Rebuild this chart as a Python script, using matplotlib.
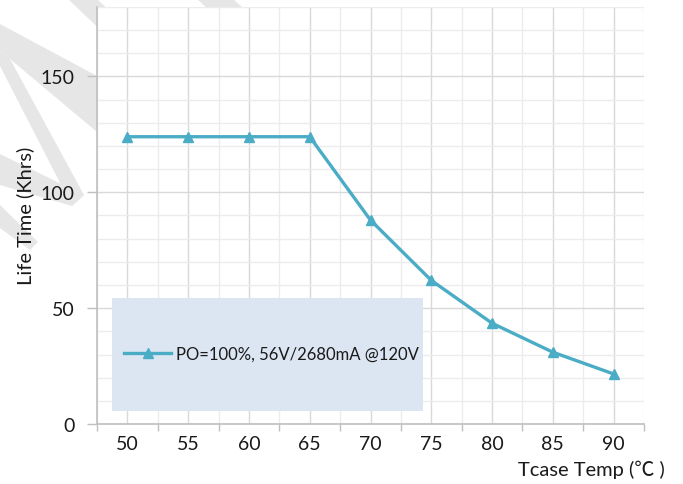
import numpy as np
import matplotlib
matplotlib.use("Agg")
import matplotlib.pyplot as plt
from matplotlib.patches import Polygon, Rectangle
from matplotlib.ticker import MultipleLocator, FixedLocator

# data
temps = [50, 55, 60, 65, 70, 75, 80, 85, 90]
life_khrs = [124, 124, 124, 124, 88, 62, 43.5, 31, 21.6]
series_label = "PO=100%, 56V/2680mA @120V"
y_ticks = [0, 50, 100, 150]

W, H = 683, 485
FONT = ["Lato", "Noto Sans CJK SC", "DejaVu Sans"]
plt.rcParams["font.family"] = FONT

line_color = "#4bacc6"
text_color = "#1a1a1a"

fig = plt.figure(figsize=(W / 100, H / 100), dpi=100)

def px(x, y):
    # pixel coords (top-left origin) -> figure fraction
    return (x / W, 1 - y / H)

# faint watermark stripes in the margins (behind the white plot area)
stripes = [
    [(0, 25), (97, 77), (97, 133), (10, 60), (0, 52)],
    [(0, 52), (10, 60), (84, 196), (72, 207), (0, 67)],
    [(0, 155), (84, 196), (72, 207), (0, 186)],
    [(0, 206), (38, 243), (30, 251), (0, 229)],
    [(68, 0), (97, 0), (140, 40), (110, 40)],
    [(197, 0), (233, 0), (262, 26), (226, 26)],
]
for s in stripes:
    fig.add_artist(Polygon([px(*p) for p in s], closed=True, transform=fig.transFigure,
                           facecolor="#e6e6e6", edgecolor="none", zorder=-1))

left, right, top, bottom = 97, 644, 8, 425
ax = fig.add_axes([left / W, 1 - bottom / H, (right - left) / W, (bottom - top) / H])
ax.set_facecolor("white")

x = np.arange(len(temps))
ax.set_xlim(-0.5, len(temps) - 0.5)
ax.set_ylim(0, 180)

# grid: majors at category centres / every 50, minors at boundaries / every 10
ax.xaxis.set_major_locator(FixedLocator(x))
ax.xaxis.set_minor_locator(FixedLocator(np.arange(len(temps) + 1) - 0.5))
ax.yaxis.set_major_locator(FixedLocator(y_ticks))
ax.yaxis.set_minor_locator(MultipleLocator(10))
ax.grid(which="major", color="#d9d9d9", linewidth=1.0, zorder=0)
ax.grid(which="minor", color="#ececec", linewidth=1.0, zorder=0)
ax.set_axisbelow(True)

ax.set_xticklabels([str(t) for t in temps])
ax.tick_params(axis="x", which="major", length=0, pad=8, labelsize=14, labelcolor=text_color)
ax.tick_params(axis="x", which="minor", length=5, width=1, color="#bfbfbf", direction="out")
ax.tick_params(axis="y", which="major", length=7, width=1, color="#bfbfbf", pad=9,
               labelsize=14, labelcolor=text_color)
ax.tick_params(axis="y", which="minor", length=0)

for side in ["top", "right"]:
    ax.spines[side].set_visible(False)
for side in ["left", "bottom"]:
    ax.spines[side].set_color("#bfbfbf")
    ax.spines[side].set_linewidth(1.2)

ax.plot(x, life_khrs, color=line_color, linewidth=2.4, marker="^", markersize=7,
        markeredgecolor=line_color, zorder=3, clip_on=False, label=series_label)

# legend box
lx0, lx1, ly0, ly1 = 112, 423, 299, 412
fig.add_artist(Rectangle(px(lx0, ly1), (lx1 - lx0) / W, (ly1 - ly0) / H, transform=fig.transFigure,
                         facecolor="#dce6f2", edgecolor="none", zorder=2))
leg = fig.legend(loc="center left", bbox_to_anchor=px(116, 355), frameon=False,
                 fontsize=12, handlelength=2.8, handletextpad=0.3, borderpad=0)
leg.set_zorder(5)
for t in leg.get_texts():
    t.set_color(text_color)

fig.text(*px(25, 216), "Life Time (Khrs)", rotation=90, ha="center", va="center",
         fontsize=14.5, color=text_color)
fig.text(*px(665, 470), "Tcase Temp (\u2103 )", ha="right", va="center",
         fontsize=14.5, color=text_color)

fig.savefig("out.png", dpi=100)
